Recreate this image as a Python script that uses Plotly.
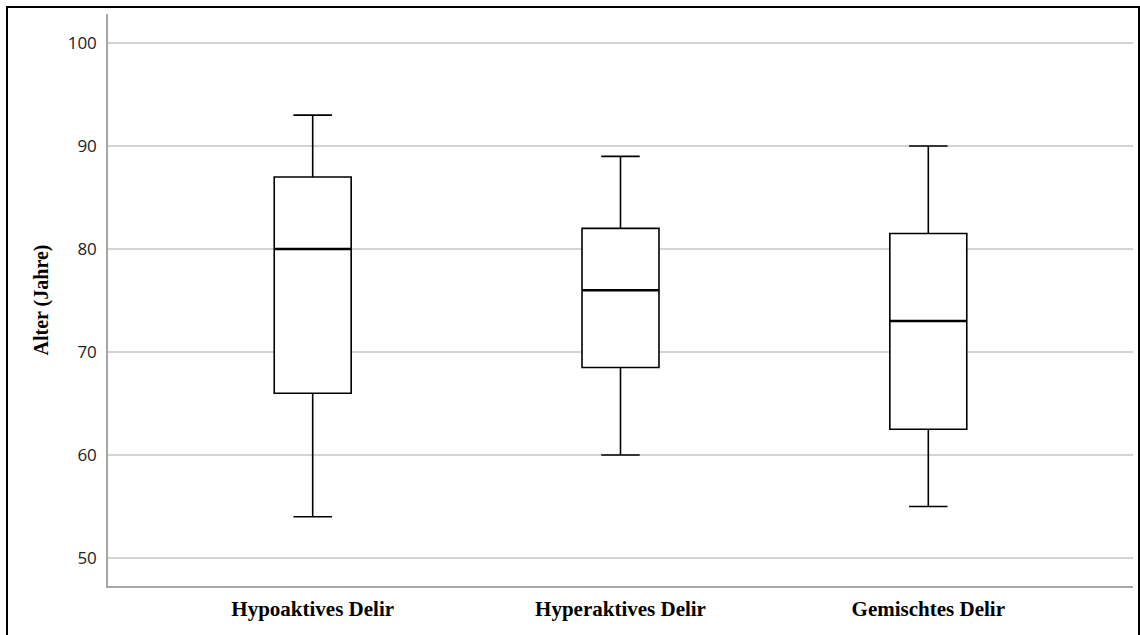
import plotly.graph_objects as go

categories = ["Hypoaktives Delir", "Hyperaktives Delir", "Gemischtes Delir"]
minimum = [54, 60, 55]
q1 = [66, 68.5, 62.5]
median = [80, 76, 73]
q3 = [87, 82, 81.5]
maximum = [93, 89, 90]

box_w = 0.25

fig = go.Figure()
for i, c in enumerate(categories):
    fig.add_trace(go.Box(
        x=[i], q1=[q1[i]], median=[median[i]], q3=[q3[i]],
        lowerfence=[minimum[i]], upperfence=[maximum[i]],
        width=box_w, whiskerwidth=0.5,
        fillcolor="white", line=dict(color="black", width=1.6),
        boxpoints=False, showlegend=False, name=c, hoverinfo="skip"))
    fig.add_trace(go.Scatter(
        x=[i - box_w / 2, i + box_w / 2], y=[median[i], median[i]],
        mode="lines", line=dict(color="black", width=2.5),
        showlegend=False, hoverinfo="skip"))

L, R, T, B = 108, 7, 14, 49
W, H = 1140, 635
pw, ph = W - L - R, H - T - B

fig.update_layout(
    width=W, height=H,
    margin=dict(l=L, r=R, t=T, b=B),
    paper_bgcolor="white", plot_bgcolor="white",
    xaxis=dict(range=[-0.665, 2.665], tickvals=[0, 1, 2], ticktext=categories,
               showgrid=False, zeroline=False, showline=True,
               linecolor="#a6a6a6", linewidth=1.5, ticks="",
               tickfont=dict(family="Liberation Serif", size=21, color="black", weight="bold"),
               ticklabelstandoff=3),
    yaxis=dict(range=[47.28, 102.82], tickvals=[50, 60, 70, 80, 90, 100],
               showgrid=True, gridcolor="#d4d4d4", gridwidth=1.5,
               zeroline=False, showline=True, linecolor="#a6a6a6", linewidth=1.5,
               ticks="", tickfont=dict(family="Open Sans", size=17, color="#222222"),
               ticklabelstandoff=6,
               title=dict(text="Alter (Jahre)", standoff=14,
                          font=dict(family="Liberation Serif", size=20, color="black", weight="bold"))),
    shapes=[dict(type="rect", xref="paper", yref="paper",
                 x0=(7 - L) / pw, x1=(1139 - L) / pw,
                 y0=(H - B - 645) / ph, y1=(H - B - 7) / ph,
                 line=dict(color="black", width=2), layer="above")],
)

fig.write_html("out.html", config={"displayModeBar": False},
               post_script="document.body.style.margin='0px';document.body.style.overflow='hidden';")
